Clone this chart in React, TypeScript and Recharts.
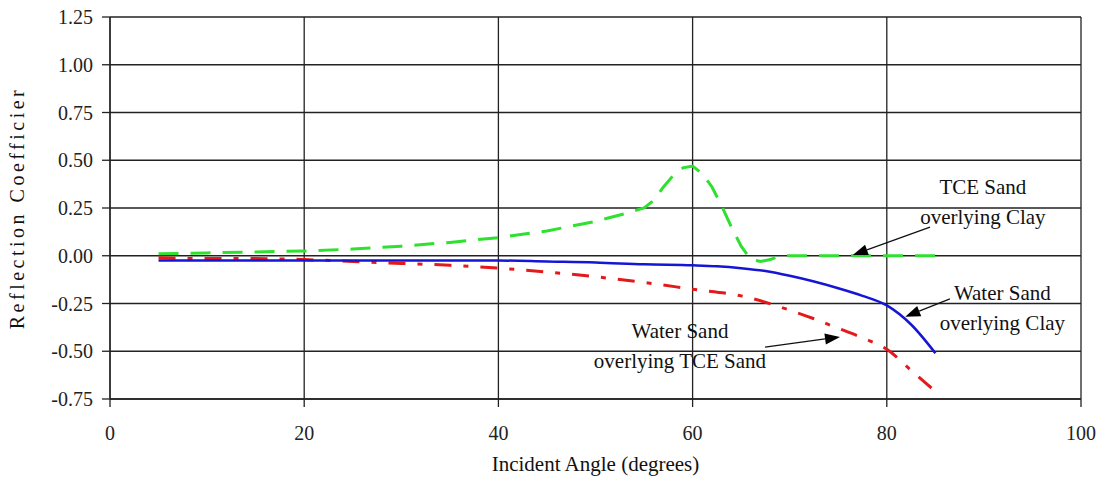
import React from 'react';
import {
  LineChart,
  Line,
  XAxis,
  YAxis,
  CartesianGrid,
  ReferenceLine,
  ReferenceDot,
} from 'recharts';

// TCE Sand overlying Clay (green dashed)
const tceClayAngles = [5, 10, 15, 20, 25, 30, 35, 40, 45, 50, 53, 55, 56, 57, 58, 59, 60, 61, 62, 63, 64, 65, 66, 67, 68, 69, 70, 75, 80, 85];
const tceClayValues = [0.01, 0.015, 0.02, 0.025, 0.035, 0.05, 0.07, 0.095, 0.13, 0.18, 0.22, 0.25, 0.29, 0.36, 0.42, 0.46, 0.47, 0.43, 0.36, 0.26, 0.15, 0.05, -0.02, -0.03, -0.02, 0, 0, 0, 0, 0];

// Water Sand overlying Clay (blue solid)
const waterClayAngles = [5, 10, 20, 30, 40, 45, 50, 55, 60, 62.5, 65, 67.5, 70, 72.5, 75, 77.5, 80, 82.5, 85];
const waterClayValues = [-0.025, -0.025, -0.025, -0.025, -0.025, -0.03, -0.035, -0.045, -0.05, -0.055, -0.065, -0.08, -0.105, -0.135, -0.17, -0.21, -0.26, -0.36, -0.51];

// Water Sand overlying TCE Sand (red dash-dot)
const waterTceAngles = [5, 10, 15, 20, 25, 30, 35, 40, 45, 50, 55, 60, 65, 70, 72.5, 75, 77.5, 80, 82.5, 85];
const waterTceValues = [-0.01, -0.015, -0.015, -0.02, -0.03, -0.04, -0.05, -0.065, -0.085, -0.11, -0.14, -0.175, -0.21, -0.285, -0.33, -0.38, -0.43, -0.49, -0.6, -0.71];

const xTicks = [0, 20, 40, 60, 80, 100];
const yTicks = [-0.75, -0.5, -0.25, 0, 0.25, 0.5, 0.75, 1, 1.25];

const toRows = (angles: number[], values: number[]) =>
  angles.map((a, i) => ({ a, v: values[i] }));

const tceClayData = toRows(tceClayAngles, tceClayValues);
const waterClayData = toRows(waterClayAngles, waterClayValues);
const waterTceData = toRows(waterTceAngles, waterTceValues);

const FONT = 'Liberation Serif, Times New Roman, DejaVu Serif, serif';

// annotation labels, in data units
const notes = [
  { x: 89.9, y: 0.323, lines: ['TCE Sand', 'overlying Clay'] },
  { x: 91.9, y: -0.23, lines: ['Water Sand', 'overlying Clay'] },
  { x: 58.7, y: -0.43, lines: ['Water Sand', 'overlying TCE Sand'] },
];

const arrows = [
  { from: { x: 84.45, y: 0.15 }, to: { x: 76.5, y: 0.004 } },
  { from: { x: 86.5, y: -0.226 }, to: { x: 81.9, y: -0.319 } },
  { from: { x: 67.46, y: -0.478 }, to: { x: 75.18, y: -0.425 } },
];

function Arrow(props: any) {
  const { x1, y1, x2, y2 } = props;
  const ang = Math.atan2(y2 - y1, x2 - x1);
  const len = 15;
  const half = 5.5;
  const bx = x2 - len * Math.cos(ang);
  const by = y2 - len * Math.sin(ang);
  const px = -Math.sin(ang) * half;
  const py = Math.cos(ang) * half;
  return (
    <g>
      <line x1={x1} y1={y1} x2={bx} y2={by} stroke="#111" strokeWidth={1.3} />
      <polygon
        points={`${x2},${y2} ${bx + px},${by + py} ${bx - px},${by - py}`}
        fill="#000"
      />
    </g>
  );
}

function noteShape(lines: string[]) {
  return (props: any) => (
    <text
      x={props.cx}
      y={props.cy}
      textAnchor="middle"
      style={{ fontFamily: FONT, fontSize: 21 }}
      fill="#111"
    >
      {lines.map((l, i) => (
        <tspan key={i} x={props.cx} dy={i === 0 ? 0 : 30}>
          {l}
        </tspan>
      ))}
    </text>
  );
}

const tickStyle = { fontFamily: FONT, fontSize: 20, fill: '#222', style: { fontFamily: FONT } };

export default function App() {
  return (
    <div style={{ position: 'absolute', left: 0, top: 0, background: '#fff', fontFamily: FONT }}>
      <LineChart
        width={1113}
        height={478}
        margin={{ top: 17, right: 32, left: 0, bottom: 0 }}
        style={{ fontFamily: FONT }}
      >
        <CartesianGrid stroke="#222" strokeWidth={1.3} />
        <XAxis
          type="number"
          dataKey="a"
          domain={[0, 100]}
          ticks={xTicks}
          height={79}
          tickSize={8}
          tickMargin={19}
          stroke="#222"
          strokeWidth={1.3}
          tick={tickStyle}
          label={{
            content: (p: any) => (
              <text
                x={p.viewBox.x + p.viewBox.width / 2}
                y={p.viewBox.y + 72}
                textAnchor="middle"
                style={{ fontFamily: FONT, fontSize: 21 }}
                fill="#111"
              >
                Incident Angle (degrees)
              </text>
            ),
          }}
        />
        <YAxis
          type="number"
          domain={[-0.75, 1.25]}
          ticks={yTicks}
          width={110}
          tickSize={8}
          tickMargin={9}
          stroke="#222"
          strokeWidth={1.3}
          tickFormatter={(v: number) => v.toFixed(2)}
          tick={tickStyle}
          label={{
            content: (p: any) => {
              const cx = 24;
              const cy = p.viewBox.y + p.viewBox.height / 2;
              return (
                <text
                  x={cx}
                  y={cy}
                  transform={`rotate(-90 ${cx} ${cy})`}
                  textAnchor="middle"
                  style={{ fontFamily: FONT, fontSize: 20, letterSpacing: 3.5 }}
                  fill="#111"
                >
                  Reflection Coefficier
                </text>
              );
            },
          }}
        />
        <Line
          data={tceClayData}
          dataKey="v"
          type="linear"
          stroke="#2fe02f"
          strokeWidth={3}
          strokeDasharray="20 12"
          dot={false}
          activeDot={false}
          isAnimationActive={false}
        />
        <Line
          data={waterTceData}
          dataKey="v"
          type="monotone"
          stroke="#e4191b"
          strokeWidth={3}
          strokeDasharray="17 12 5 12"
          dot={false}
          activeDot={false}
          isAnimationActive={false}
        />
        <Line
          data={waterClayData}
          dataKey="v"
          type="monotone"
          stroke="#1515d6"
          strokeWidth={2.5}
          dot={false}
          activeDot={false}
          isAnimationActive={false}
        />
        {arrows.map((a, i) => (
          <ReferenceLine
            key={`arrow-${i}`}
            segment={[a.from, a.to]}
            shape={Arrow}
            ifOverflow="visible"
          />
        ))}
        {notes.map((n, i) => (
          <ReferenceDot
            key={`note-${i}`}
            x={n.x}
            y={n.y}
            r={0}
            ifOverflow="visible"
            shape={noteShape(n.lines)}
          />
        ))}
      </LineChart>
    </div>
  );
}
